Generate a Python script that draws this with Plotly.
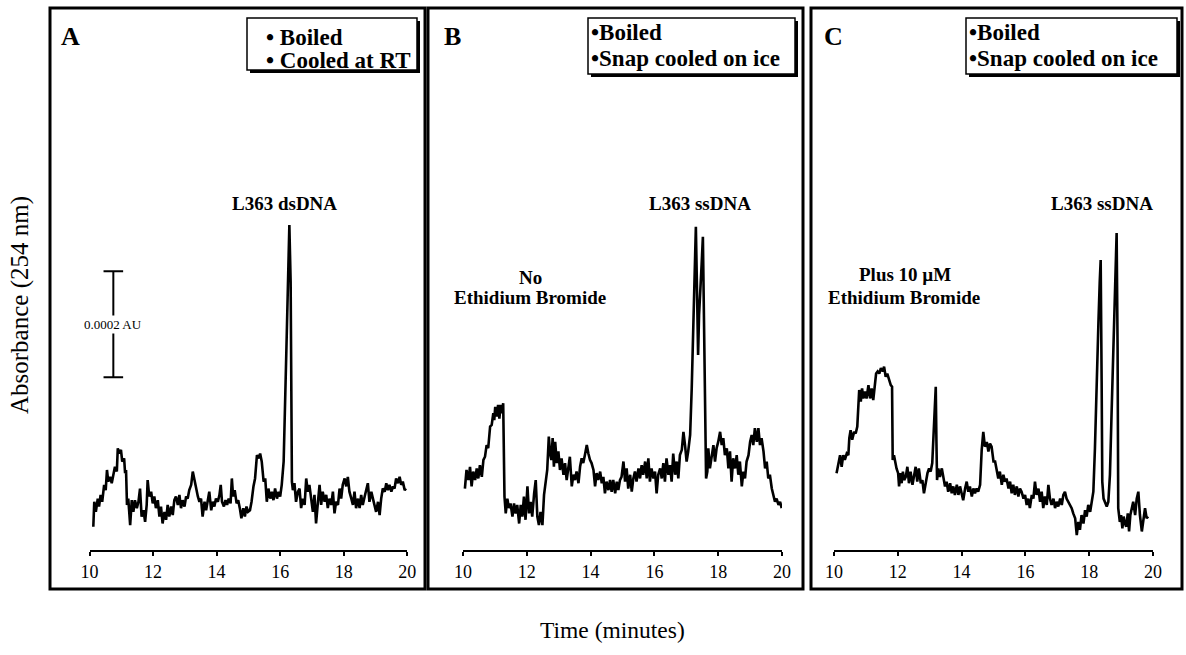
import plotly.graph_objects as go

# ---------------- data (time in minutes, absorbance in micro-AU) ----------------
A_T = [10.12,10.15,10.20,10.26,10.30,10.35,10.40,10.46,10.51,10.55,10.59,10.65,10.70,10.75,10.80,10.86,10.89,10.94,10.99,11.03,
       11.09,11.12,11.15,11.18,11.22,11.28,11.33,11.38,11.43,11.49,11.54,11.59,11.64,11.70,11.75,11.80,11.83,11.88,11.94,11.99,
       12.04,12.09,12.15,12.20,12.25,12.30,12.36,12.41,12.46,12.51,12.57,12.62,12.67,12.72,12.78,12.83,12.88,12.93,12.99,13.04,
       13.09,13.14,13.20,13.25,13.30,13.35,13.41,13.46,13.51,13.56,13.62,13.67,13.72,13.77,13.83,13.88,13.93,13.98,14.04,14.09,
       14.13,14.17,14.23,14.28,14.33,14.38,14.44,14.48,14.52,14.57,14.63,14.68,14.73,14.78,14.84,14.89,14.94,14.99,15.05,15.10,
       15.16,
       15.21,15.27,15.32,15.37,15.42,15.48,15.53,15.58,15.63,15.69,15.74,15.79,15.84,15.90,15.95,16.00,16.05,16.11,16.16,16.21,
       16.26,16.29,16.33,16.35,16.37,16.40,
       16.45,16.50,16.56,16.61,16.66,16.71,16.77,16.82,16.87,16.92,16.98,17.03,17.08,17.13,17.19,17.24,17.29,17.34,17.40,17.45,
       17.50,17.55,17.61,17.66,17.71,17.76,17.82,17.87,17.92,17.97,18.03,18.08,18.13,18.18,18.24,18.29,18.34,18.39,18.45,18.50,
       18.55,18.60,18.66,18.71,18.76,18.81,18.87,18.92,18.97,19.02,19.08,19.13,19.18,19.23,19.29,19.34,19.39,19.44,19.50,19.55,
       19.60,19.65,19.71,19.76,19.81,19.86,19.92,19.96]
A_Y = [44,91,72,97,82,104,91,123,113,151,129,138,126,142,157,148,192,182,189,167,
       173,145,151,85,97,47,94,72,94,79,91,116,63,75,53,85,132,101,110,88,
       101,79,94,63,82,50,72,57,85,63,82,66,94,101,85,104,79,94,82,101,
       97,113,123,148,132,123,101,91,97,63,91,75,94,110,75,91,82,97,91,104,
       123,91,82,94,85,97,88,135,101,113,88,94,79,60,79,63,82,72,75,91,
       120,
       135,179,173,182,167,129,135,91,116,97,110,94,116,97,110,101,123,167,267,412,
       538,613,506,286,129,113,
       126,91,110,116,79,97,85,135,110,123,91,72,104,50,91,123,85,110,91,104,
       79,97,85,110,69,91,85,116,97,123,135,120,138,110,97,85,110,79,97,79,
       104,85,101,116,126,91,110,97,85,72,91,66,97,116,110,126,113,123,110,120,
       116,135,126,138,123,129,113,116]

B_T = [10.06,10.11,10.17,10.22,10.27,10.32,10.38,10.43,10.48,10.53,10.59,10.64,10.69,10.74,10.79,10.85,10.90,10.95,10.98,11.01,
       11.06,11.10,11.14,11.18,11.22,11.26,11.30,11.34,11.39,11.44,11.49,11.55,11.60,11.65,11.70,11.76,11.81,11.86,11.91,11.96,
       12.02,12.07,12.12,12.17,12.23,12.28,12.33,12.38,12.43,12.49,12.54,12.59,12.64,12.69,12.73,12.77,12.81,12.85,12.89,12.94,
       12.99,13.04,13.09,13.15,13.20,13.25,13.30,13.35,13.41,13.46,13.51,13.56,13.62,13.67,13.72,13.77,13.82,13.88,13.93,13.98,
       14.03,14.09,14.14,14.19,14.24,14.30,14.35,14.40,14.45,14.50,14.56,14.61,14.66,14.71,14.77,14.82,14.87,14.92,14.97,15.03,
       15.08,15.13,15.18,15.24,15.29,15.34,15.39,15.44,15.50,15.55,15.60,15.65,15.71,15.76,15.81,15.86,15.91,15.97,16.02,16.07,
       16.12,16.18,16.23,16.28,16.33,16.38,16.44,16.49,16.54,16.59,16.65,16.70,16.75,16.80,16.86,16.91,16.96,17.01,17.06,17.12,
       17.17,17.22,17.27,17.30,17.34,17.37,17.40,17.44,17.48,17.52,17.56,17.59,17.62,17.66,17.69,17.74,17.80,17.85,17.90,17.95,
       18.00,18.06,18.11,18.16,18.21,18.27,18.32,18.37,18.42,18.47,18.53,18.58,18.63,18.68,18.74,18.79,18.84,18.89,18.95,19.00,
       19.05,19.10,19.15,19.21,19.26,19.31,19.36,19.42,19.47,19.52,19.57,19.62,19.68,19.73,19.78,19.83,19.89,19.94,19.99]
B_Y = [116,151,132,157,120,148,132,154,135,160,138,170,176,198,192,233,236,258,245,270,
       252,274,248,274,258,277,101,69,97,79,88,63,88,69,85,50,85,63,101,57,
       120,69,91,63,107,132,63,47,72,47,104,132,151,214,182,170,211,157,204,164,
       186,151,173,142,164,132,157,176,120,142,132,148,126,157,173,164,179,198,182,170,
       164,151,120,145,132,148,126,138,107,129,113,132,110,132,107,129,113,132,138,167,
       129,154,116,142,110,135,148,129,154,135,160,142,167,135,173,129,154,135,148,107,
       142,154,135,164,129,173,142,160,129,182,142,167,135,179,189,223,198,167,186,217,
       305,412,506,610,475,368,443,481,538,591,381,242,135,148,192,154,179,198,167,192,
       204,223,198,211,179,192,154,186,129,173,154,179,142,167,120,148,135,167,179,204,
       217,198,230,204,230,198,211,186,154,167,135,142,116,104,91,97,85,91,79]

C_T = [10.08,10.14,10.19,10.24,10.29,10.34,10.40,10.45,10.48,10.52,10.57,10.63,10.68,10.73,10.76,10.79,10.84,10.88,10.92,10.97,
       11.02,11.08,11.13,11.18,11.23,11.29,11.32,11.37,11.42,11.47,11.53,11.57,11.62,11.67,11.72,11.78,11.82,11.84,11.88,11.92,
       11.96,12.01,12.04,12.08,12.12,12.16,12.20,12.25,12.30,12.35,12.40,12.46,12.51,12.56,12.61,12.66,12.72,12.77,12.82,12.87,
       12.93,12.98,13.03,13.08,13.14,13.19,13.21,13.23,13.27,13.32,13.38,13.43,13.48,13.53,13.58,13.64,13.69,13.74,13.79,13.85,
       13.90,13.95,14.00,14.05,14.11,14.16,14.21,14.26,14.32,14.37,14.42,14.47,14.52,14.58,14.63,14.68,14.73,14.79,14.84,14.89,
       14.94,15.00,
       15.05,15.10,15.15,15.20,15.26,15.31,15.36,15.41,15.47,15.52,15.57,15.62,15.67,15.73,15.78,15.83,15.88,15.94,15.99,16.04,
       16.09,16.14,16.20,16.25,16.30,16.35,16.41,16.46,16.51,16.56,16.61,16.67,16.72,16.77,16.82,16.88,16.93,16.98,17.03,17.09,
       17.14,17.19,17.24,17.29,17.35,17.40,17.45,17.50,17.56,17.61,17.66,17.71,17.76,17.82,17.87,17.92,17.97,18.03,18.08,18.13,
       18.18,18.23,18.29,18.33,18.36,18.39,18.41,18.45,18.50,18.55,18.60,18.65,18.70,18.76,18.81,18.86,18.89,18.91,18.96,19.00,
       19.04,19.08,19.12,19.16,19.21,19.25,19.29,19.33,19.38,19.44,19.49,19.54,19.59,19.65,19.70,19.75,19.80,19.85]
C_Y = [145,164,179,157,179,170,182,179,211,226,208,223,220,233,270,302,280,305,286,299,
       286,311,286,305,283,321,333,337,333,343,337,346,327,333,321,311,308,170,179,164,
       154,145,120,145,126,148,132,138,157,126,148,123,142,157,129,154,126,132,107,126,
       145,154,148,164,239,308,208,132,154,138,154,132,120,129,110,126,107,120,104,123,
       104,120,107,94,116,129,110,120,101,116,107,116,110,123,189,223,195,204,186,201,
       195,167,
       167,154,135,148,123,142,129,135,116,129,107,123,104,120,101,116,110,97,104,85,
       97,79,104,97,129,104,116,91,110,79,101,85,123,97,85,97,79,91,82,97,
       85,104,110,97,91,85,79,69,60,28,53,38,66,50,75,63,85,72,91,110,
       192,318,431,506,547,318,129,97,88,82,91,142,255,381,506,598,381,79,53,66,
       41,63,50,44,69,35,66,79,91,66,97,110,66,35,53,79,60,63]

TICKS = [10, 12, 14, 16, 18, 20]
TIME_RANGE = [10, 20]
ABS_RANGE = [0, 1019]          # micro-AU
SCALE_T = 10.75                # scale-bar position (min)
SCALE_LO, SCALE_LEN = 326, 200  # micro-AU (0.0002 AU bar)

# ---------------- layout helpers ----------------
W, H = 1186, 655
def fx(x): return x / W
def fy(y): return 1 - y / H

SERIF = "Liberation Serif"
fig = go.Figure()

panels = [
    (A_T, A_Y, "x", "y", (89.5, 407.25)),
    (B_T, B_Y, "x2", "y2", (463, 782)),
    (C_T, C_Y, "x3", "y3", (834, 1153)),
]
for i, (T, Y, xa, ya, dom) in enumerate(panels):
    fig.add_trace(go.Scatter(x=T, y=Y, mode="lines", xaxis=xa, yaxis=ya,
                             line=dict(color="black", width=2.6), hoverinfo="skip",
                             showlegend=False))
    suffix = "" if i == 0 else str(i + 1)
    fig.layout["xaxis" + suffix] = dict(
        domain=[fx(dom[0]), fx(dom[1])], range=TIME_RANGE, anchor="y" + suffix,
        showline=True, linecolor="black", linewidth=2, showgrid=False, zeroline=False,
        tickvals=TICKS, ticks="outside", ticklen=4, tickwidth=2, tickcolor="black",
        tickfont=dict(family=SERIF, size=18, color="black"), fixedrange=True,
        automargin=False)
    fig.layout["yaxis" + suffix] = dict(
        domain=[fy(550), fy(10)], range=ABS_RANGE, anchor="x" + suffix,
        visible=False, fixedrange=True, automargin=False)

# scale bar in panel A
fig.add_trace(go.Scatter(x=[SCALE_T, SCALE_T], y=[SCALE_LO, SCALE_LO + SCALE_LEN],
                         mode="lines+markers", xaxis="x", yaxis="y",
                         line=dict(color="black", width=2),
                         marker=dict(symbol="line-ew", size=14, color="black",
                                     line=dict(width=2, color="black")),
                         hoverinfo="skip", showlegend=False))

shapes = []
# panel frames
for x0, x1 in [(50, 425), (428, 803), (811, 1182)]:
    shapes.append(dict(type="rect", xref="paper", yref="paper",
                       x0=fx(x0), x1=fx(x1), y0=fy(589), y1=fy(8),
                       line=dict(color="black", width=3), layer="below"))
# legend boxes with shadow
for x0, x1, y0, y1 in [(247, 417, 18, 70), (588, 795, 18, 74), (966, 1177, 18, 74)]:
    shapes.append(dict(type="rect", xref="paper", yref="paper",
                       x0=fx(x0 + 3), x1=fx(x1 + 3), y0=fy(y1 + 3), y1=fy(y0 + 3),
                       fillcolor="black", line=dict(width=0)))
    shapes.append(dict(type="rect", xref="paper", yref="paper",
                       x0=fx(x0), x1=fx(x1), y0=fy(y1), y1=fy(y0),
                       fillcolor="white", line=dict(color="black", width=1.5)))
fig.update_layout(shapes=shapes)

ann = []
def txt(text, x, y, size, bold=True, xanchor="center", angle=0):
    ann.append(dict(text=text, x=fx(x), y=fy(y), xref="paper", yref="paper",
                    showarrow=False, xanchor=xanchor, yanchor="middle", textangle=angle,
                    font=dict(family=SERIF, size=size, color="black",
                              weight="bold" if bold else "normal")))

# panel letters
txt("A", 59, 36, 26, xanchor="left")
txt("B", 442, 36, 26, xanchor="left")
txt("C", 822, 36, 26, xanchor="left")
# legends
txt("• Boiled", 264, 37, 23, xanchor="left")
txt("• Cooled at RT", 264, 60, 23, xanchor="left")
for lx in (589, 967):
    txt("•Boiled", lx, 33, 23, xanchor="left")
    txt("•Snap cooled on ice", lx, 58, 23, xanchor="left")
# peak labels
txt("L363 dsDNA", 284, 203, 19)
txt("L363 ssDNA", 700, 203, 19)
txt("L363 ssDNA", 1102, 203, 19)
txt("No", 530, 277, 19)
txt("Ethidium Bromide", 530, 297, 19)
txt("Plus 10 µM", 905, 275, 19)
txt("Ethidium Bromide", 904, 297, 19)
# axis titles
txt("Absorbance (254 nm)", 20, 305, 25, bold=False, angle=-90)
txt("Time (minutes)", 612, 630, 23.5, bold=False)
# scale bar label
ann.append(dict(text="0.0002 AU", x=SCALE_T, y=SCALE_LO + SCALE_LEN / 2, xref="x", yref="y",
                showarrow=False, bgcolor="white", borderpad=1,
                font=dict(family=SERIF, size=13, color="black")))
fig.update_layout(annotations=ann)

fig.update_layout(width=W, height=H, autosize=False,
                  margin=dict(l=0, r=0, t=0, b=0, pad=0, autoexpand=False),
                  paper_bgcolor="white", plot_bgcolor="rgba(0,0,0,0)", showlegend=False)

fig.write_html("out.html", config={"displayModeBar": False},
               post_script="document.body.style.margin='0';document.body.style.padding='0';"
                           "document.body.style.overflow='hidden';"
                           "document.documentElement.style.overflow='hidden';")
